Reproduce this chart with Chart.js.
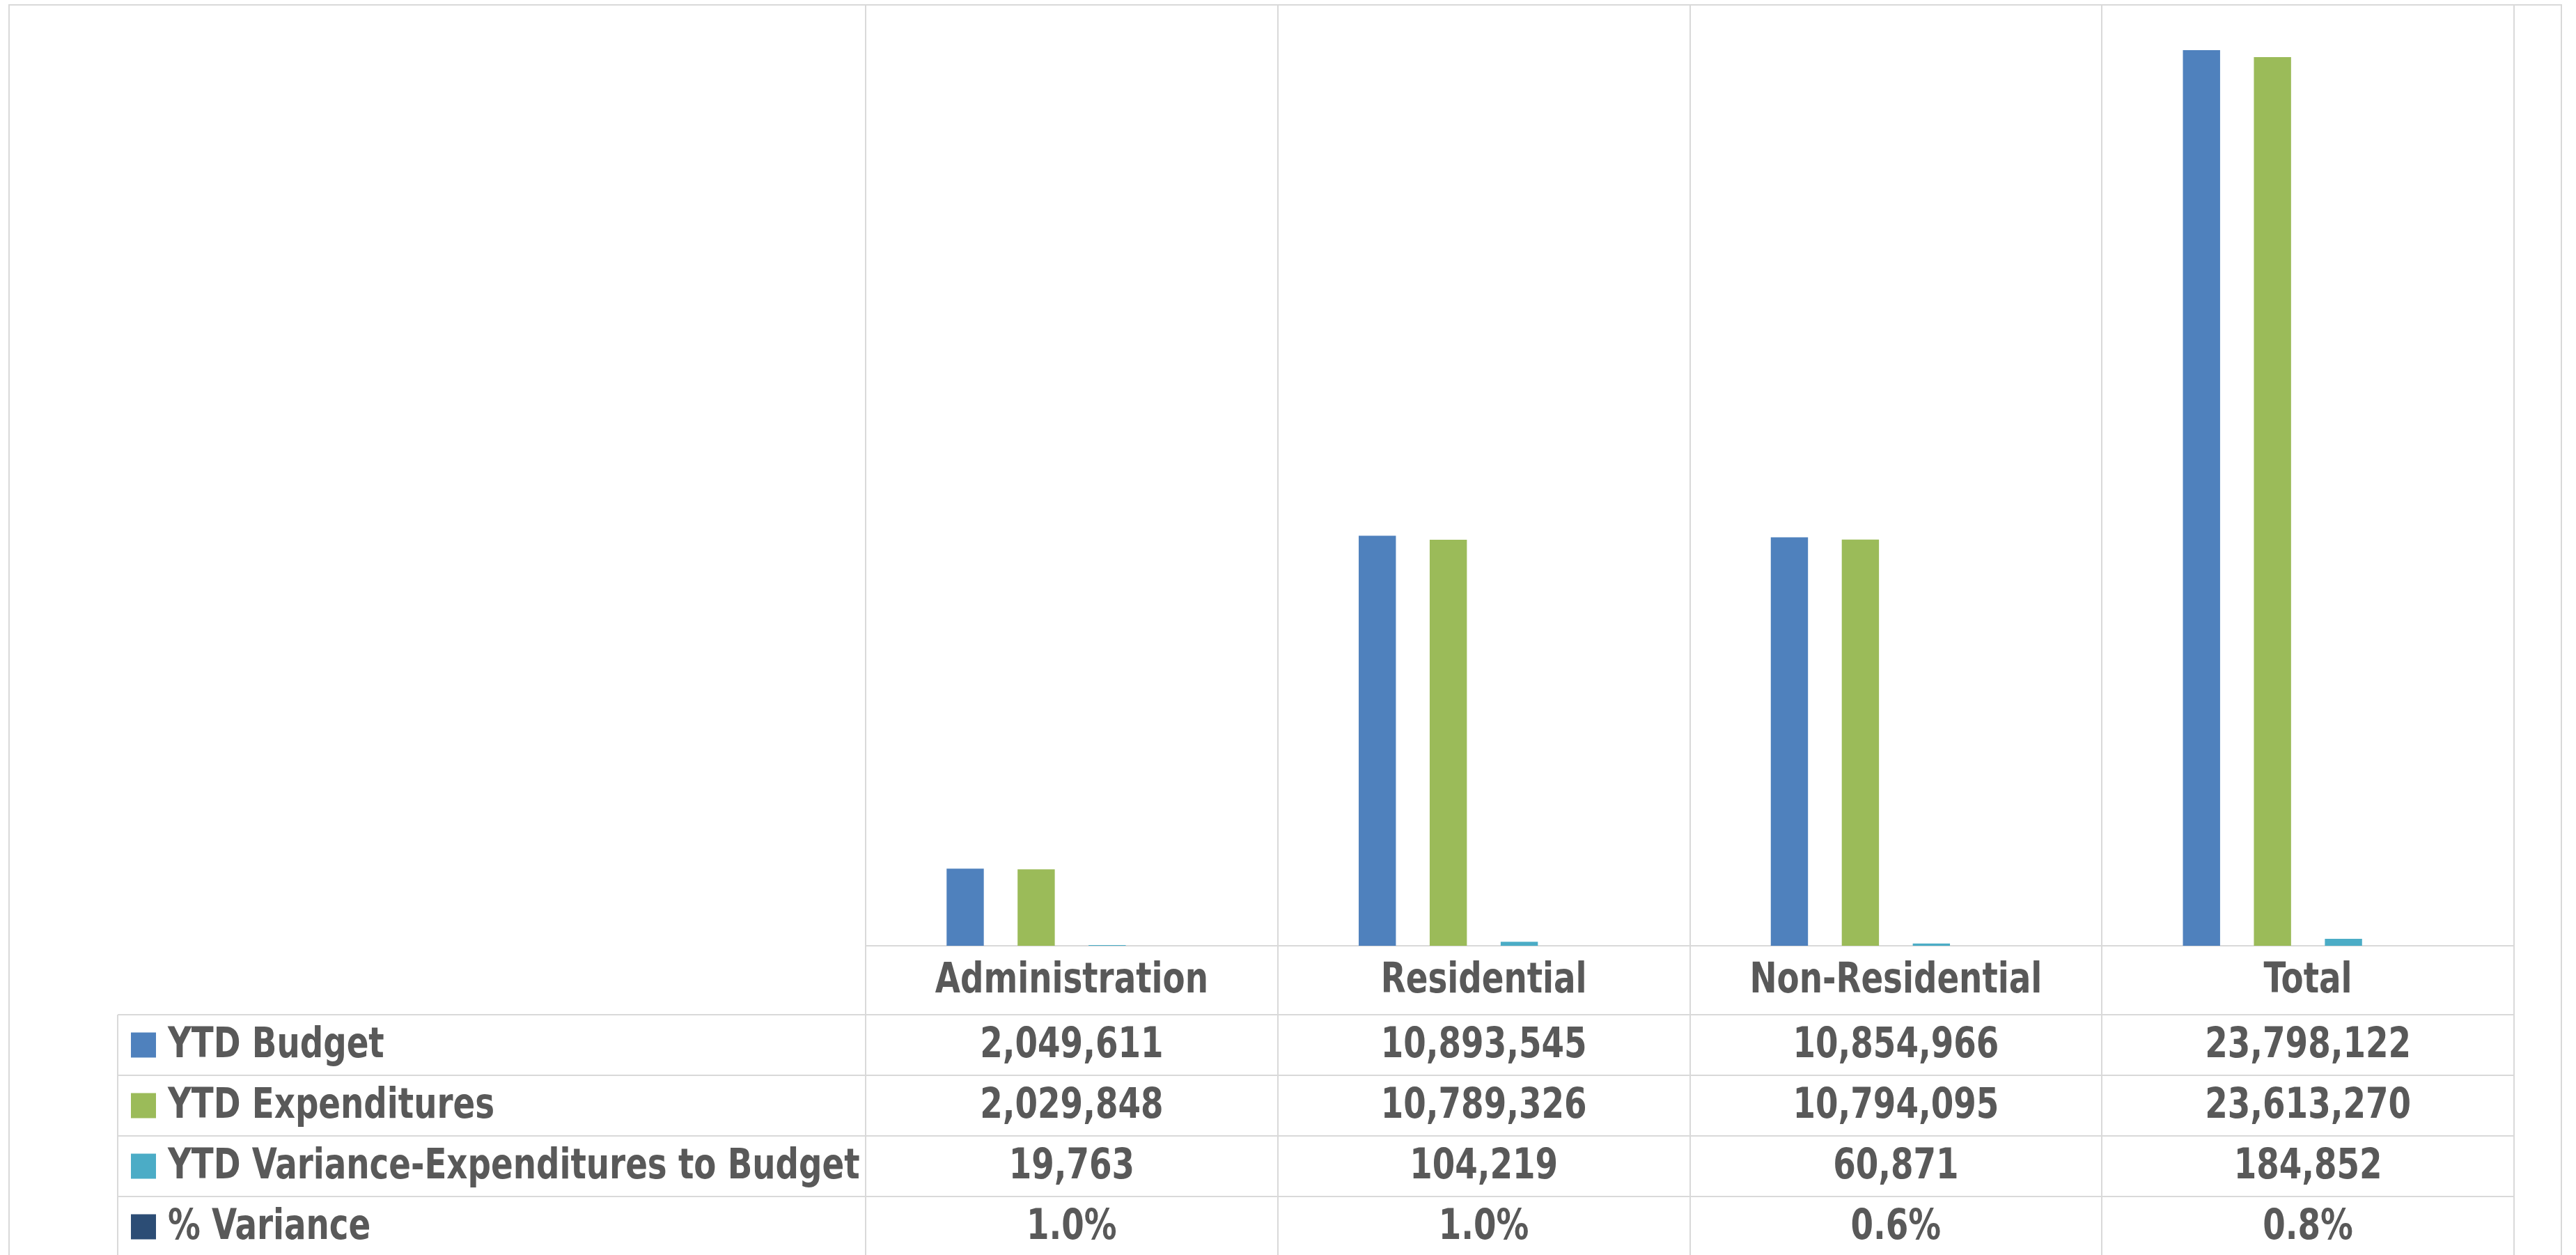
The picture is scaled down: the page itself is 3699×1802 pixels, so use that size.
<!DOCTYPE html>
<html>
<head>
<meta charset="utf-8">
<script src="https://cdn.jsdelivr.net/npm/chart.js@4.4.1/dist/chart.umd.min.js"></script>
<style>
html,body{margin:0;padding:0;background:#fff;}
canvas{display:block;}
</style>
</head>
<body>
<canvas id="c" width="3699" height="1802" style="width:3699px;height:1802px"></canvas>
<script>
const categories = ['Administration', 'Residential', 'Non-Residential', 'Total'];
const seriesNames = ['YTD Budget', 'YTD Expenditures', 'YTD Variance-Expenditures to Budget', '% Variance'];
const ytdBudget = [2049611, 10893545, 10854966, 23798122];
const ytdExpenditures = [2029848, 10789326, 10794095, 23613270];
const ytdVariance = [19763, 104219, 60871, 184852];
const pctVariance = [0.010, 0.010, 0.006, 0.008];
const seriesColors = ['#4F81BD', '#9BBB59', '#4BACC6', '#2C4D75'];
const yMax = 25000000;

const FONT = 'bold 60px "DejaVu Sans Condensed", "DejaVu Sans", sans-serif';
const TEXT = '#595959';
const LINE = '#D9D9D9';
const SQUEEZE = 0.866;

const fmtNum = v => v.toLocaleString('en-US');
const fmtPct = v => (v * 100).toFixed(1) + '%';
const tableRows = [
  {vals: ytdBudget, fmt: fmtNum},
  {vals: ytdExpenditures, fmt: fmtNum},
  {vals: ytdVariance, fmt: fmtNum},
  {vals: pctVariance, fmt: fmtPct}
];

function drawText(ctx, s, x, y, align) {
  ctx.save();
  ctx.translate(x, y);
  ctx.scale(SQUEEZE, 1);
  ctx.textAlign = align;
  ctx.fillText(s, 0, 0);
  ctx.restore();
}

const tablePlugin = {
  id: 'dataTable',
  beforeDatasetsDraw(chart) {
    const ctx = chart.ctx, ca = chart.chartArea, xs = chart.scales.x;
    const H = chart.height;
    const catW = (xs.right - xs.left) / categories.length;
    const headerBottom = ca.bottom + 99;
    const rowH = 87;
    ctx.save();
    ctx.strokeStyle = LINE;
    ctx.lineWidth = 2;
    ctx.beginPath();
    ctx.moveTo(13, H + 5); ctx.lineTo(13, 7); ctx.lineTo(3678, 7); ctx.lineTo(3678, H + 5);
    ctx.stroke();
    for (let i = 0; i <= categories.length; i++) {
      const xx = i < categories.length ? Math.round(xs.getPixelForValue(i) - catW / 2) : Math.round(xs.getPixelForValue(i - 1) + catW / 2);
      ctx.beginPath(); ctx.moveTo(xx, ca.top); ctx.lineTo(xx, H + 5); ctx.stroke();
    }
    ctx.beginPath(); ctx.moveTo(169, headerBottom); ctx.lineTo(169, H + 5); ctx.stroke();
    ctx.beginPath(); ctx.moveTo(ca.left, ca.bottom); ctx.lineTo(ca.right, ca.bottom); ctx.stroke();
    for (let r = 0; r < tableRows.length; r++) {
      const y = headerBottom + r * rowH;
      ctx.beginPath(); ctx.moveTo(169, y); ctx.lineTo(ca.right, y); ctx.stroke();
    }
    ctx.restore();
  },
  afterDraw(chart) {
    const ctx = chart.ctx, ca = chart.chartArea, xs = chart.scales.x;
    const headerBottom = ca.bottom + 99;
    const rowH = 87;
    ctx.save();
    ctx.font = FONT;
    ctx.fillStyle = TEXT;
    ctx.textBaseline = 'middle';
    categories.forEach((c, i) => {
      drawText(ctx, c, xs.getPixelForValue(i), (ca.bottom + headerBottom) / 2 + 2, 'center');
    });
    tableRows.forEach((row, r) => {
      const yc = headerBottom + r * rowH + rowH / 2 + 2;
      ctx.fillStyle = TEXT;
      row.vals.forEach((v, i) => {
        drawText(ctx, row.fmt(v), xs.getPixelForValue(i), yc, 'center');
      });
      ctx.fillStyle = seriesColors[r];
      ctx.fillRect(188, yc - 2 - 18, 36, 36);
      ctx.fillStyle = TEXT;
      drawText(ctx, seriesNames[r], 241, yc, 'left');
    });
    ctx.restore();
  }
};

new Chart(document.getElementById('c'), {
  type: 'bar',
  data: {
    labels: categories,
    datasets: [
      {label: seriesNames[0], data: ytdBudget, backgroundColor: seriesColors[0]},
      {label: seriesNames[1], data: ytdExpenditures, backgroundColor: seriesColors[1]},
      {label: seriesNames[2], data: ytdVariance, backgroundColor: seriesColors[2]},
      {label: seriesNames[3], data: pctVariance, backgroundColor: seriesColors[3]}
    ]
  },
  options: {
    responsive: false,
    devicePixelRatio: 1,
    animation: false,
    layout: {padding: {left: 1243, right: 89, top: 7, bottom: 444}},
    datasets: {bar: {categoryPercentage: 0.689, barPercentage: 0.524}},
    plugins: {legend: {display: false}, title: {display: false}, tooltip: {enabled: false}},
    scales: {
      x: {display: false},
      y: {display: false, min: 0, max: yMax}
    }
  },
  plugins: [tablePlugin]
});
</script>
</body>
</html>
